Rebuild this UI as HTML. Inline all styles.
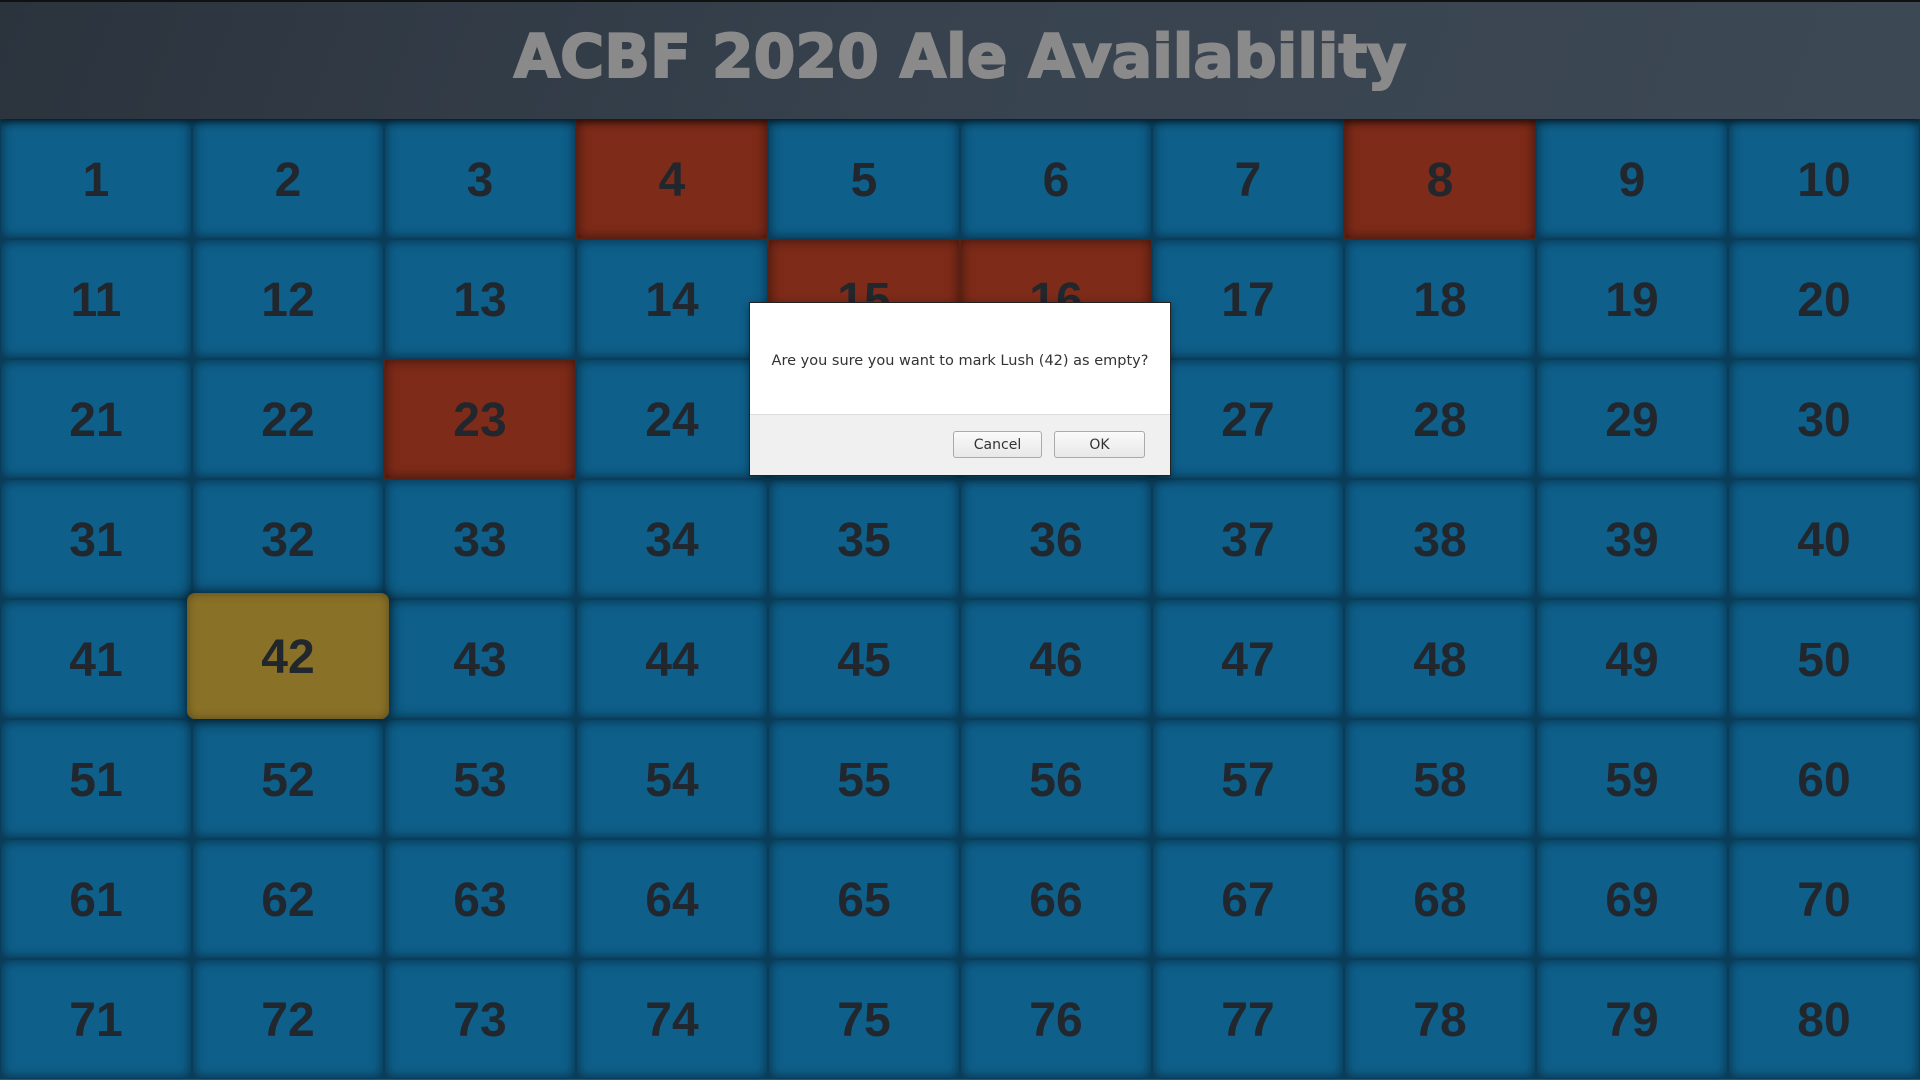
<!DOCTYPE html>
<html><head><meta charset="utf-8"><style>
html,body{margin:0;padding:0;width:1920px;height:1080px;overflow:hidden;background:#0e5f8a;font-family:"Liberation Sans",sans-serif}
#hdr{position:absolute;left:0;top:0;width:1920px;height:119px;background:linear-gradient(110deg,#2b333d 0%,#38434f 50%,#3d4855 100%);border-top:2px solid #111;box-sizing:border-box;box-shadow:0 3px 6px rgba(0,0,0,.5);z-index:2}
#title{position:absolute;left:0;width:1920px;top:20px;text-align:center;font-size:60px;font-weight:900;color:#8a8a8a;letter-spacing:0px;font-family:"DejaVu Sans","Liberation Sans",sans-serif;-webkit-text-stroke:2px #8a8a8a}
.cell{position:absolute;width:192px;height:120px;background:#0e5f8a;box-shadow:inset 0 0 12px rgba(0,0,0,.55);display:flex;align-items:center;justify-content:center;font-weight:bold;font-size:48px;color:#22262d;box-sizing:border-box;border:1px solid #0b3d5a;padding-top:2px}
.cell.empty{background:#7e2b19;border-color:#5a2012}
.cell.sel{background:#8a7128;border-radius:8px;box-shadow:inset 0 0 10px rgba(0,0,0,.35),0 0 14px rgba(0,0,0,.7);z-index:1;border:none}
#overlay{position:absolute;left:749px;top:302px;width:422px;height:174px;background:#fff;border:1px solid #222;box-sizing:border-box;z-index:5;box-shadow:0 2px 8px rgba(0,0,0,.4);font-family:"DejaVu Sans",sans-serif}
#msg{position:absolute;left:0;right:0;top:50px;text-align:center;font-size:14.5px;color:#333}
#foot{position:absolute;left:0;right:0;bottom:0;height:60px;background:#f0f0f0;border-top:1px solid #ddd}
.btn{position:absolute;top:16px;height:27px;border:1px solid #aaa;border-radius:3px;background:linear-gradient(#fafafa,#e8e8e8);font-size:14px;color:#333;display:flex;align-items:center;justify-content:center;box-sizing:border-box}
</style></head><body>
<div id="hdr"><div id="title">ACBF 2020 Ale Availability</div></div>
<div id="grid"></div>
<div id="overlay">
<div id="msg">Are you sure you want to mark Lush (42) as empty?</div>
<div id="foot">
<div class="btn" style="left:203px;width:89px">Cancel</div>
<div class="btn" style="left:304px;width:91px">OK</div>
</div></div>
<script>
const ales = Array.from({length:80},(_,i)=>i+1);
const emptyAles = [4,8,15,16,23];
const selectedAle = 42;
const g = document.getElementById('grid');
ales.forEach(n=>{
  const el=document.createElement('div');
  
  
  const c=(n-1)%10, r=Math.floor((n-1)/10);
  el.className='cell'+(emptyAles.includes(n)?' empty':'')+(n===selectedAle?' sel':'');
  if(n===selectedAle){el.style.left=(c*192-5)+'px';el.style.top=(119+r*120-6)+'px';el.style.width='202px';el.style.height='126px';}
  else{el.style.left=(c*192)+'px';el.style.top=(119+r*120)+'px';}
  el.textContent=n;
  g.appendChild(el);
});
</script>
</body></html>
